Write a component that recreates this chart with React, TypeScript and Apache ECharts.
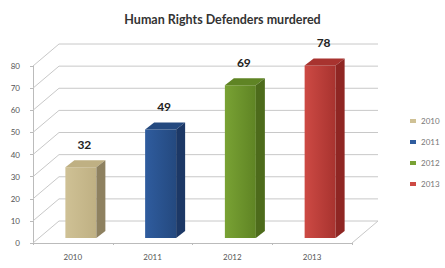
import React, { useEffect, useRef } from "react";
import * as echarts from "echarts";

const years = ["2010", "2011", "2012", "2013"];
const values = [32, 49, 69, 78];
const gridValues = [0, 10, 20, 30, 40, 50, 60, 70, 80];
const frontColors = ["#cfc195", "#2f5c9e", "#79a234", "#cd4a44"];
const topColors = ["#bfb083", "#24497f", "#5f8424", "#a8332f"];
const sideColors = ["#8e8160", "#1c3866", "#4d6b1b", "#8f2623"];
const legendColors = ["#cfc195", "#2f5c9e", "#79a234", "#cd4a44"];

const DX = 26;
const DY = -22;
const BOX = 8;
const BOY = -5;
const BW = 31;
const BDX = 9;
const BDY = -7;

export default function App() {
  const ref = useRef<HTMLDivElement>(null);
  useEffect(() => {
    if (!ref.current) return;
    const chart = echarts.init(ref.current, null, { renderer: "svg" });
    const barSeries = years.map((y, i) => ({
      name: y,
      type: "custom",
      data: [[i, values[i]]],
      z: 5,
      itemStyle: { color: legendColors[i] },
      renderItem: (params: any, api: any) => {
        const idx = api.value(0);
        const v = api.value(1);
        const p0 = api.coord([idx, 0]);
        const p1 = api.coord([idx, v]);
        const xl = p0[0] + BOX - BW / 2;
        const xr = xl + BW;
        const yb = p0[1] + BOY;
        const yt = p1[1] + BOY;
        return {
          type: "group",
          children: [
            {
              type: "rect",
              shape: { x: xl, y: yt, width: BW, height: yb - yt },
              style: {
                fill: new echarts.graphic.LinearGradient(0, 0, 1, 0, [
                  { offset: 0, color: frontColors[i] },
                  { offset: 1, color: topColors[i] },
                ]),
              },
            },
            {
              type: "polygon",
              shape: {
                points: [
                  [xl, yt],
                  [xl + BDX, yt + BDY],
                  [xr + BDX, yt + BDY],
                  [xr, yt],
                ],
              },
              style: { fill: topColors[i] },
            },
            {
              type: "polygon",
              shape: {
                points: [
                  [xr, yt],
                  [xr + BDX, yt + BDY],
                  [xr + BDX, yb + BDY],
                  [xr, yb],
                ],
              },
              style: { fill: sideColors[i] },
            },
            {
              type: "text",
              style: {
                text: String(v),
                x: xl + BW / 2 + BDX / 2 - 1,
                y: yt + BDY - 16,
                align: "center",
                verticalAlign: "middle",
                fill: "#222",
                font: "bold 12px Lato, 'Open Sans', sans-serif",
              },
            },
          ],
        };
      },
    }));
    chart.setOption({
      animation: false,
      backgroundColor: "#ffffff",
      title: {
        text: "Human Rights Defenders murdered",
        left: "center",
        top: 8,
        textStyle: {
          fontFamily: "Lato, 'Open Sans', sans-serif",
          fontSize: 12.5,
          fontWeight: "bold",
          color: "#333",
        },
      },
      legend: {
        data: years,
        orient: "vertical",
        left: 405,
        top: 112,
        itemWidth: 6,
        itemHeight: 4,
        itemGap: 13,
        icon: "rect",
        textStyle: { fontSize: 8, color: "#777", fontFamily: "Lato, sans-serif" },
      },
      grid: { left: 33, right: 93, top: 66, bottom: 25, containLabel: false },
      xAxis: {
        type: "category",
        data: years,
        axisLine: { show: true, lineStyle: { color: "#bbb" } },
        axisTick: { show: true, length: 2, lineStyle: { color: "#bbb" } },
        axisLabel: { fontSize: 8, color: "#555", margin: 10, fontFamily: "Lato, sans-serif" },
      },
      yAxis: {
        type: "value",
        min: 0,
        max: 80,
        interval: 10,
        splitLine: { show: false },
        axisLine: { show: true, lineStyle: { color: "#bbb" } },
        axisTick: { show: true, length: 3, lineStyle: { color: "#bbb" } },
        axisLabel: { fontSize: 8, color: "#555", margin: 13, fontFamily: "Lato, sans-serif" },
      },
      series: [
        {
          name: "grid",
          type: "custom",
          silent: true,
          z: 1,
          data: gridValues.map((v) => [0, v]),
          renderItem: (params: any, api: any) => {
            const cs = params.coordSys;
            const v = api.value(1);
            const y = api.coord([0, v])[1];
            const children: any[] = [
              {
                type: "line",
                shape: { x1: cs.x, y1: y, x2: cs.x + DX, y2: y + DY },
                style: { stroke: "#c8c8c8", lineWidth: 1 },
              },
              {
                type: "line",
                shape: { x1: cs.x + DX, y1: y + DY, x2: cs.x + cs.width + DX, y2: y + DY },
                style: { stroke: "#c8c8c8", lineWidth: 1 },
              },
            ];
            if (v === 0) {
              children.push({
                type: "line",
                shape: { x1: cs.x + cs.width, y1: y, x2: cs.x + cs.width + DX, y2: y + DY },
                style: { stroke: "#c8c8c8", lineWidth: 1 },
              });
            }
            return { type: "group", children };
          },
        },
        ...barSeries,
      ],
    });
    return () => chart.dispose();
  }, []);
  return (
    <div
      ref={ref}
      style={{ position: "fixed", left: 0, top: 0, width: 445, height: 268 }}
    />
  );
}
